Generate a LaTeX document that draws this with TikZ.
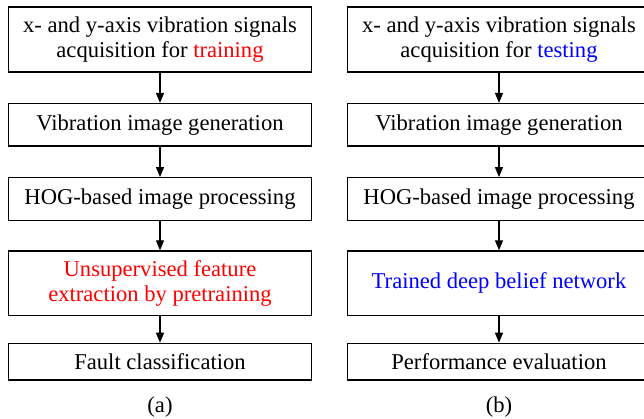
\documentclass[tikz,border=0pt]{standalone}
\usepackage{fontspec}
\setmainfont{Liberation Serif}
\usetikzlibrary{arrows.meta}
\tikzset{
  stagebox/.style={draw=black, line width=1.3pt, minimum width=303pt, inner sep=0pt,
    align=center, font=\fontsize{22.6}{25.5}\selectfont},
  flow/.style={line width=1.3pt, -{Triangle[length=10pt,width=8pt]}},
  caption/.style={font=\fontsize{22.6}{25.5}\selectfont, inner sep=0pt}
}
\begin{document}
\begin{tikzpicture}[x=1pt,y=1pt]
\useasboundingbox (0,0) rectangle (644,-419);
% left column: training
\node[stagebox, minimum height=65pt]   (a1) at (160,-39.5) {x- and y-axis vibration signals\\acquisition for \textcolor{red}{training}};
\node[stagebox, minimum height=42.5pt] (a2) at (160,-124.8) {Vibration image generation};
\node[stagebox, minimum height=42.5pt] (a3) at (160,-199) {HOG-based image processing};
\node[stagebox, minimum height=64.7pt, text=red] (a4) at (160,-283.3) {Unsupervised feature\\extraction by pretraining};
\node[stagebox, minimum height=36.7pt] (a5) at (160,-361.7) {Fault classification};
\node[caption] (ca) at (160,-407) {(a)};
% right column: testing
\node[stagebox, minimum height=65pt]   (b1) at (499,-39.5) {x- and y-axis vibration signals\\acquisition for \textcolor{blue}{testing}};
\node[stagebox, minimum height=42.5pt] (b2) at (499,-124.8) {Vibration image generation};
\node[stagebox, minimum height=42.5pt] (b3) at (499,-199) {HOG-based image processing};
\node[stagebox, minimum height=64.7pt, text=blue] (b4) at (499,-283.3) {Trained deep belief network};
\node[stagebox, minimum height=36.7pt] (b5) at (499,-361.7) {Performance evaluation};
\node[caption] (cb) at (499,-407) {(b)};
% connectors
\foreach \c in {a,b}{
  \draw[flow] (\c1) -- (\c2);
  \draw[flow] (\c2) -- (\c3);
  \draw[flow] (\c3) -- (\c4);
  \draw[flow] (\c4) -- (\c5);
}
\end{tikzpicture}
\end{document}
